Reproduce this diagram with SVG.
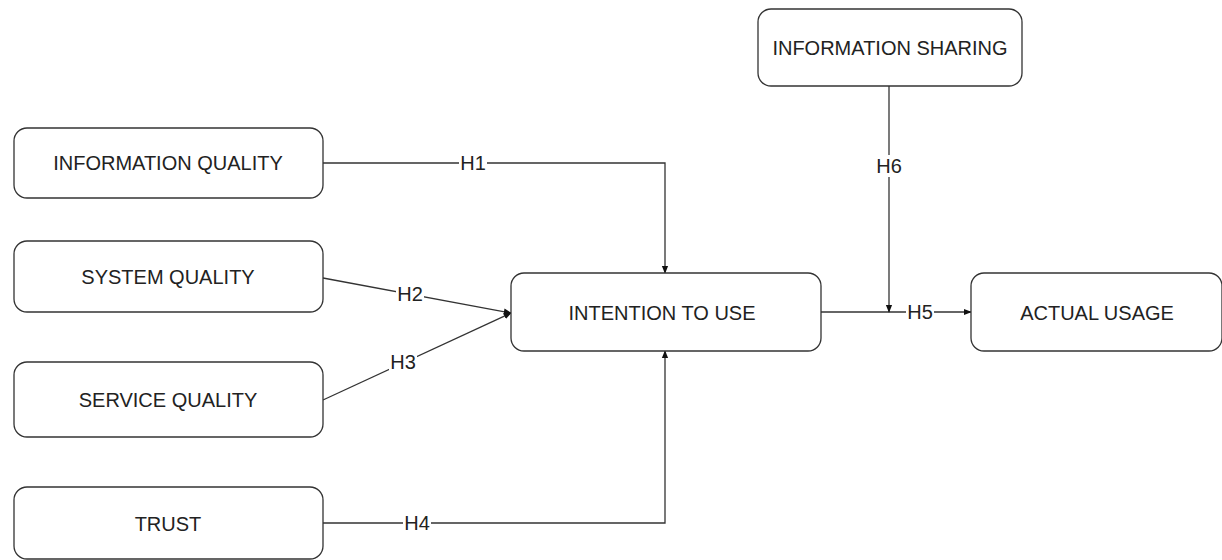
<svg xmlns="http://www.w3.org/2000/svg" width="1222" height="560" viewBox="0 0 1222 560">
<style>
.box{fill:#fff;stroke:#333;stroke-width:1.3}
.t{font-family:"Liberation Sans",Arial,sans-serif;font-size:20px;fill:#222;text-anchor:middle;dominant-baseline:central}
.ln{fill:none;stroke:#333;stroke-width:1.3}
.lb{fill:#fff;stroke:none}
</style>
<defs>
<marker id="arr" viewBox="0 0 10 10" refX="9" refY="5" markerWidth="8" markerHeight="8" markerUnits="userSpaceOnUse" orient="auto">
<path d="M0,1 L10,5 L0,9 Z" fill="#111"/>
</marker>
</defs>
<rect width="1222" height="560" fill="#fff"/>
<g id="connectors">
<path class="ln" d="M323,163 H665 V273" marker-end="url(#arr)"/>
<path class="ln" d="M323,278 L511,313" marker-end="url(#arr)"/>
<path class="ln" d="M323,400 L511,313" marker-end="url(#arr)"/>
<path class="ln" d="M323,523 H665 V351" marker-end="url(#arr)"/>
<path class="ln" d="M821,312 H971" marker-end="url(#arr)"/>
<path class="ln" d="M889,86 V312" marker-end="url(#arr)"/>
<rect class="lb" x="459" y="152" width="28" height="22"/>
<text class="t" x="473" y="163">H1</text>
<rect class="lb" x="396" y="283" width="28" height="22"/>
<text class="t" x="410" y="294">H2</text>
<rect class="lb" x="389" y="351" width="28" height="22"/>
<text class="t" x="403" y="362">H3</text>
<rect class="lb" x="403" y="512" width="28" height="22"/>
<text class="t" x="417" y="523">H4</text>
<rect class="lb" x="906" y="301" width="28" height="22"/>
<text class="t" x="920" y="312">H5</text>
<rect class="lb" x="875" y="155" width="28" height="22"/>
<text class="t" x="889" y="166">H6</text>
</g>
<g id="information-quality">
<rect class="box" x="14" y="128" width="309" height="70" rx="13"/>
<text class="t" x="168" y="163">INFORMATION QUALITY</text>
</g>
<g id="system-quality">
<rect class="box" x="14" y="241" width="309" height="71" rx="13"/>
<text class="t" x="168" y="277">SYSTEM QUALITY</text>
</g>
<g id="service-quality">
<rect class="box" x="14" y="362" width="309" height="75" rx="13"/>
<text class="t" x="168" y="400">SERVICE QUALITY</text>
</g>
<g id="trust">
<rect class="box" x="14" y="487" width="309" height="72" rx="13"/>
<text class="t" x="168" y="524">TRUST</text>
</g>
<g id="intention-to-use">
<rect class="box" x="511" y="273" width="310" height="78" rx="13"/>
<text class="t" x="662" y="313">INTENTION TO USE</text>
</g>
<g id="actual-usage">
<rect class="box" x="971" y="273" width="251" height="78" rx="13"/>
<text class="t" x="1097" y="313">ACTUAL USAGE</text>
</g>
<g id="information-sharing">
<rect class="box" x="758" y="9" width="264" height="77" rx="13"/>
<text class="t" x="890" y="48">INFORMATION SHARING</text>
</g>
</svg>
